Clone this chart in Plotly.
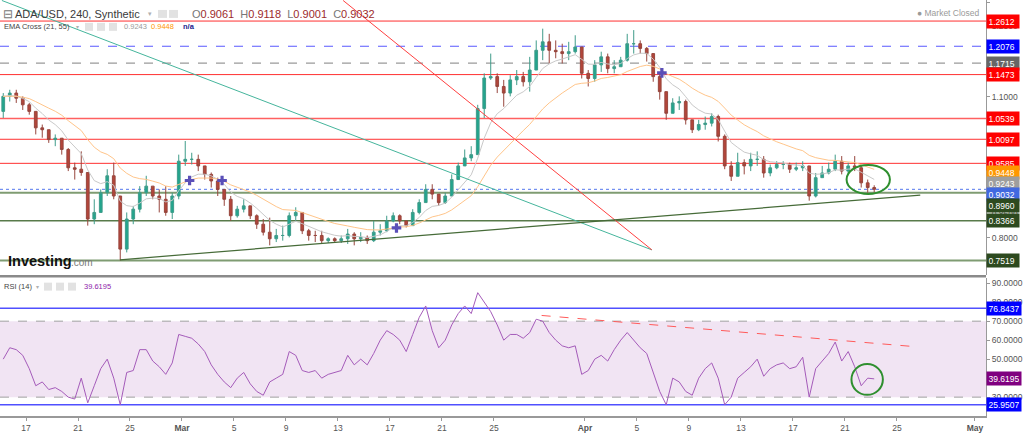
import plotly.graph_objects as go
import pandas as pd

# ---------------- data (12h bars) ----------------
open_first = 1.069
close = [1.101,1.108,1.097,1.083,1.069,1.034,1.030,1.009,1.012,0.988,
         0.949,0.946,0.939,0.840,0.854,0.896,0.932,0.889,0.776,0.840,
         0.861,0.896,0.910,0.889,0.882,0.854,0.889,0.963,0.967,0.967,
         0.953,0.935,0.921,0.903,0.882,0.847,0.861,0.868,0.847,0.829,
         0.812,0.798,0.805,0.805,0.847,0.854,0.815,0.805,0.805,0.794,
         0.798,0.794,0.798,0.808,0.798,0.801,0.794,0.812,0.815,0.836,
         0.847,0.836,0.826,0.854,0.875,0.903,0.893,0.875,0.889,0.924,
         0.953,0.970,0.977,1.075,1.140,1.143,1.122,1.108,1.136,1.143,
         1.132,1.157,1.199,1.217,1.199,1.196,1.192,1.196,1.206,1.150,
         1.139,1.168,1.185,1.160,1.164,1.178,1.213,1.213,1.203,1.192,
         1.143,1.111,1.065,1.087,1.090,1.051,1.030,1.041,1.044,1.058,
         1.016,0.953,0.931,0.960,0.953,0.967,0.967,0.938,0.949,0.956,
         0.956,0.946,0.949,0.953,0.889,0.928,0.938,0.946,0.963,0.942,
         0.953,0.949,0.917,0.907,0.9032]
high = [1.108,1.115,1.115,1.101,1.087,1.069,1.041,1.023,1.020,1.006,
        0.991,0.960,0.984,0.939,0.882,0.903,0.946,0.960,0.882,0.854,
        0.868,0.910,0.932,0.910,0.903,0.910,0.896,0.977,1.006,0.981,
        0.977,0.953,0.939,0.928,0.896,0.889,0.868,0.882,0.868,0.850,
        0.840,0.843,0.819,0.826,0.854,0.865,0.854,0.819,0.815,0.815,
        0.801,0.801,0.805,0.819,0.812,0.812,0.805,0.836,0.829,0.847,
        0.854,0.850,0.836,0.861,0.882,0.914,0.914,0.889,0.896,0.935,
        0.960,0.988,0.995,1.083,1.150,1.192,1.150,1.136,1.146,1.157,
        1.153,1.185,1.220,1.245,1.234,1.220,1.213,1.217,1.231,1.206,
        1.157,1.178,1.196,1.192,1.178,1.185,1.234,1.242,1.220,1.206,
        1.192,1.150,1.101,1.097,1.101,1.094,1.051,1.051,1.058,1.065,
        1.062,1.020,0.963,0.981,0.967,0.981,0.984,0.974,0.956,0.963,
        0.963,0.960,0.960,0.963,0.953,0.938,0.953,0.960,0.977,0.974,
        0.960,0.974,0.953,0.924,0.9118]
low = [1.055,1.090,1.087,1.072,1.062,1.020,1.013,1.002,0.995,0.977,
       0.942,0.924,0.932,0.826,0.829,0.854,0.889,0.882,0.752,0.769,
       0.829,0.854,0.889,0.882,0.854,0.847,0.840,0.882,0.953,0.956,
       0.942,0.924,0.907,0.889,0.868,0.836,0.843,0.854,0.840,0.819,
       0.805,0.784,0.791,0.794,0.801,0.836,0.808,0.794,0.791,0.787,
       0.789,0.789,0.789,0.787,0.784,0.791,0.787,0.791,0.805,0.812,
       0.833,0.829,0.822,0.826,0.850,0.875,0.882,0.868,0.872,0.889,
       0.924,0.953,0.963,0.977,1.055,1.136,1.108,1.079,1.101,1.125,
       1.122,1.111,1.178,1.178,1.171,1.182,1.171,1.178,1.192,1.139,
       1.122,1.132,1.153,1.150,1.150,1.164,1.175,1.192,1.192,1.175,
       1.132,1.094,1.051,1.065,1.072,1.041,1.023,1.027,1.030,1.037,
       1.005,0.946,0.921,0.931,0.935,0.942,0.953,0.928,0.931,0.946,
       0.946,0.938,0.942,0.942,0.879,0.886,0.928,0.935,0.942,0.935,
       0.938,0.942,0.907,0.896,0.897]
rsi = [50,56,55,52,45,36,38,34,35,33,
       30,29,40,27,36,45,50,40,26,43,
       44,55,55,49,46,42,48,63,62,61,
       58,54,47,42,38,35,40,43,37,33,
       31,38,40,42,54,52,44,43,44,40,
       42,43,44,52,47,50,47,53,60,65,
       63,60,54,63,72,78,65,56,60,68,
       74,78,74,85,80,75,68,60,63,63,
       61,64,71,70,64,60,57,56,57,42,
       44,50,52,49,55,60,64,60,56,53,
       43,33,26,40,38,33,31,40,45,48,
       40,26,30,40,43,46,50,41,45,47,
       48,45,46,51,30,45,49,53,59,49,
       54,46,36,40,39.6195]

# EMA-cross signal markers
cross_dates = ["2022-03-01 14:00", "2022-03-04 02:00", "2022-03-17 12:00", "2022-04-06 22:00"]
cross_prices = [0.922, 0.922, 0.821, 1.151]

# horizontal price levels: (value, colour, dash, width)
levels = [(1.2612, "#ff3030", "solid", 1), (1.2076, "#5a5aff", "dash", 1.2),
          (1.1715, "#9a9a9a", "dash", 1.2), (1.1473, "#ff3030", "solid", 1),
          (1.0539, "#ff6060", "solid", 1.4), (1.0097, "#ff3030", "solid", 1),
          (0.9585, "#ff3030", "solid", 1), (0.9032, "#5577ee", "dot", 1),
          (0.8960, "#7f9c72", "solid", 2), (0.8366, "#587a4a", "solid", 1.5),
          (0.7519, "#7f9c72", "solid", 2)]
# right-axis price tags: (text, value, colour, pixel shift)
price_tags = [("1.2612", 1.2612, "#ff0000", 0), ("1.2076", 1.2076, "#0000ff", 0),
              ("1.1715", 1.1715, "#666666", 0), ("1.1473", 1.1473, "#ff0000", 0),
              ("1.0539", 1.0539, "#ff0000", 0), ("1.0097", 1.0097, "#ff0000", 0),
              ("0.9585", 0.9585, "#ff0000", 0), ("0.9448", 0.9448, "#ff9800", -3),
              ("0.9243", 0.9243, "#9e9e9e", -4), ("0.9032", 0.9032, "#4169e1", -5),
              ("0.8960", 0.8960, "#2d4a1f", -13), ("0.8366", 0.8366, "#2d4a1f", 0),
              ("0.7519", 0.7519, "#2d4a1f", 0)]
rsi_tags = [("76.8437", 76.8437, "#0000ff"), ("39.6195", 39.6195, "#800080"),
            ("25.9507", 25.9507, "#0000ff")]

x_tickvals = ["2022-02-17", "2022-02-21", "2022-02-25", "2022-03-01", "2022-03-05",
              "2022-03-09", "2022-03-13", "2022-03-17", "2022-03-21", "2022-03-25",
              "2022-04-01", "2022-04-05", "2022-04-09", "2022-04-13", "2022-04-17",
              "2022-04-21", "2022-04-25", "2022-05-01"]
x_ticktext = ["17", "21", "25", "<b>Mar</b>", "5", "9", "13", "17", "21", "25",
              "<b>Apr</b>", "5", "9", "13", "17", "21", "25", "<b>May</b>"]
y_tickvals = [0.80, 0.85, 1.10, 1.25, 1.30]
rsi_tickvals = [30, 50, 60, 70, 80, 90]

# ---------------- derived ----------------
dates = pd.date_range("2022-02-15 06:00", periods=len(close), freq="12h")
opens = [open_first] + close[:-1]
hi = [max(h, o, c) for h, o, c in zip(high, opens, close)]
lo = [min(l, o, c) for l, o, c in zip(low, opens, close)]


def ema(vals, span):
    a = 2.0 / (span + 1)
    out = [vals[0]]
    for v in vals[1:]:
        out.append(a * v + (1 - a) * out[-1])
    return out


ema21 = ema(close, 21 / 3)   # 21 x 4h bars expressed in 12h bars
ema55 = ema(close, 55 / 3)

FONT = "Liberation Sans, Arial, sans-serif"
W_PLOT, H_PLOT = 986.0, 418.0


def px(x):
    return x / W_PLOT


def py(y):
    return (H_PLOT - y) / H_PLOT


fig = go.Figure()
fig.add_trace(go.Candlestick(
    x=dates, open=opens, high=hi, low=lo, close=close, xaxis="x", yaxis="y",
    increasing=dict(line=dict(color="#3f9c8a", width=1), fillcolor="#22a58d"),
    decreasing=dict(line=dict(color="#97463d", width=1), fillcolor="#b3453a"),
    whiskerwidth=0, showlegend=False, hoverinfo="skip"))
fig.add_trace(go.Scatter(x=dates, y=ema21, mode="lines", line=dict(color="#c9c9c9", width=1),
                         xaxis="x", yaxis="y", showlegend=False, hoverinfo="skip"))
fig.add_trace(go.Scatter(x=dates, y=ema55, mode="lines", line=dict(color="#ffc58a", width=1),
                         xaxis="x", yaxis="y", showlegend=False, hoverinfo="skip"))
fig.add_trace(go.Scatter(x=cross_dates, y=cross_prices, mode="markers",
                         marker=dict(symbol="cross", size=8, color="#5a4fb8"),
                         xaxis="x", yaxis="y", showlegend=False, hoverinfo="skip"))
fig.add_trace(go.Scatter(x=dates, y=rsi, mode="lines", line=dict(color="#a45bb9", width=1),
                         xaxis="x", yaxis="y2", showlegend=False, hoverinfo="skip"))

shapes = []
# RSI band and guide lines
shapes.append(dict(type="rect", xref="paper", x0=0, x1=1, yref="y2", y0=30, y1=70,
                   fillcolor="#f1e4f3", line=dict(width=0), layer="below"))
for v in (70, 30):
    shapes.append(dict(type="line", xref="paper", x0=0, x1=1, yref="y2", y0=v, y1=v,
                       line=dict(color="#a0a0a0", width=1, dash="dash"), layer="below"))
for v in (76.8437, 25.9507):
    shapes.append(dict(type="line", xref="paper", x0=0, x1=1, yref="y2", y0=v, y1=v,
                       line=dict(color="#5050ff", width=1.5), layer="below"))
shapes.append(dict(type="line", xref="x", yref="y2", x0="2022-03-28 16:00", y0=73,
                   x1="2022-04-26 00:00", y1=56.8,
                   line=dict(color="#ff5a5a", width=1, dash="dash")))
shapes.append(dict(type="circle", xref="x", yref="y2", x0="2022-04-21 12:00", x1="2022-04-23 22:00",
                   y0=31.2, y1=47.4, line=dict(color="#2f8f2f", width=2)))
# price levels
for v, c, d, w in levels:
    shapes.append(dict(type="line", xref="paper", x0=0, x1=1, yref="y", y0=v, y1=v,
                       line=dict(color=c, width=w, dash=d), layer="below"))
# trend lines
shapes.append(dict(type="line", xref="x", yref="y", x0="2022-02-15 03:30", y0=1.305,
                   x1="2022-04-06 03:30", y1=0.7744, line=dict(color="#45b59c", width=1)))
shapes.append(dict(type="line", xref="x", yref="y", x0="2022-03-13 09:30", y0=1.305,
                   x1="2022-04-06 03:30", y1=0.7744, line=dict(color="#ff4040", width=1)))
shapes.append(dict(type="line", xref="x", yref="y", x0="2022-02-24 05:30", y0=0.7533,
                   x1="2022-04-26 19:00", y1=0.8907, line=dict(color="#466b38", width=1.2)))
shapes.append(dict(type="circle", xref="x", yref="y", x0="2022-04-21 03:00", x1="2022-04-24 11:00",
                   y0=0.8931, y1=0.9552, line=dict(color="#2f8f2f", width=2)))
# panel separator
shapes.append(dict(type="line", xref="paper", x0=0, x1=1, yref="paper", y0=py(277.6), y1=py(277.6),
                   line=dict(color="#8a8a8a", width=2.5)))
# legend icon boxes
for (x0, x1, y0, y1) in [(158, 167, 10, 18), (169, 178, 10, 18),
                         (85, 93, 23, 31), (97, 105, 23, 31), (109, 117, 23, 31),
                         (44, 52, 284, 292), (56, 64, 284, 292), (68, 76, 284, 292)]:
    shapes.append(dict(type="rect", xref="paper", yref="paper", x0=px(x0), x1=px(x1),
                       y0=py(y1), y1=py(y0), fillcolor="#e2e2e2", line=dict(width=0)))

ann = []
for t, v, c, s in price_tags:
    ann.append(dict(text=t, xref="paper", x=1, xanchor="left", yref="y", y=v, yanchor="middle",
                    yshift=s, showarrow=False, bgcolor=c, borderpad=1.5, width=29, align="left",
                    font=dict(family=FONT, size=8.5, color="white")))
for t, v, c in rsi_tags:
    ann.append(dict(text=t, xref="paper", x=1, xanchor="left", yref="y2", y=v, yanchor="middle",
                    showarrow=False, bgcolor=c, borderpad=1.5, width=31, align="left",
                    font=dict(family=FONT, size=8.5, color="white")))


def label(text, x, y, size, color, anchor="left"):
    ann.append(dict(text=text, xref="paper", x=px(x), xanchor=anchor, yref="paper", y=py(y),
                    yanchor="middle", showarrow=False, font=dict(family=FONT, size=size, color=color)))


label("⊟", 1, 14, 12, "#777")
label("ADA/USD, 240, Synthetic", 13, 14, 11, "#3a3a3a")
label("▾", 146, 14, 7, "#b0b0b0")
label("<span style='color:#777'>O</span>0.9061  <span style='color:#777'>H</span>0.9118  "
      "<span style='color:#777'>L</span>0.9001  <span style='color:#777'>C</span>0.9032",
      190, 14, 11, "#9c2b2b")
label("EMA Cross (21, 55)", 2, 27, 7.5, "#444")
label("▾", 74, 27, 6, "#b0b0b0")
label("0.9243", 122, 27, 7.5, "#9a9a9a")
label("0.9448", 149, 27, 7.5, "#ff9800")
label("<b>n/a</b>", 181, 27, 7.5, "#1a1a8c")
label("● Market Closed", 982, 13, 8.5, "#9a9a9a", anchor="right")
label("RSI (14)", 2, 288, 7.5, "#444")
label("▾", 34, 288, 6, "#b0b0b0")
label("39.6195", 82, 288, 7.5, "#8e24aa")
label("<b>Investing</b>", 6, 262, 14.5, "#111")
label(".com", 69, 264, 10, "#7a7a7a")

fig.update_layout(
    width=1024, height=433, margin=dict(l=0, r=38, t=0, b=15),
    paper_bgcolor="white", plot_bgcolor="white", showlegend=False, boxgap=0.4,
    font=dict(family=FONT, size=8.5, color="#555"),
    shapes=shapes, annotations=ann,
    xaxis=dict(type="date", range=["2022-02-15 00:00", "2022-05-01 20:24"], anchor="y2",
               tickvals=x_tickvals, ticktext=x_ticktext, ticks="outside", ticklen=3,
               tickcolor="#999", showline=True, linecolor="#999", linewidth=1.5,
               showgrid=False, zeroline=False, rangeslider=dict(visible=False),
               tickfont=dict(family=FONT, size=8.5, color="#555")),
    yaxis=dict(domain=[(H_PLOT - 276) / H_PLOT, 1], range=[0.7216, 1.306],
               side="right", anchor="x", tickvals=y_tickvals, tickformat=".4f",
               ticks="outside", ticklen=3, tickcolor="#999", showline=True, linecolor="#999",
               showgrid=False, zeroline=False, tickfont=dict(family=FONT, size=8.5, color="#555")),
    yaxis2=dict(domain=[0, (H_PLOT - 279) / H_PLOT], range=[20.07, 92.9],
                side="right", anchor="x", tickvals=rsi_tickvals, tickformat=".4f",
                ticks="outside", ticklen=3, tickcolor="#999", showline=True, linecolor="#999",
                showgrid=False, zeroline=False, tickfont=dict(family=FONT, size=8.5, color="#555")),
)

fig.write_html("out.html")
